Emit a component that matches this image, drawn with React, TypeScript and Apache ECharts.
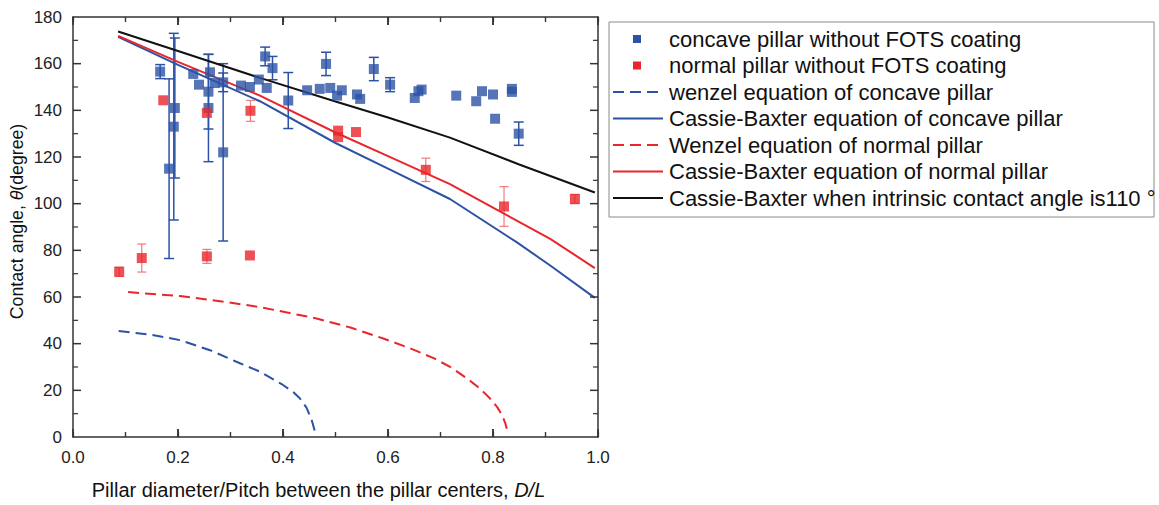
import React, { useEffect, useRef } from "react";
import * as echarts from "echarts";

// Measured contact angles, concave pillars (D/L, angle, ± error)
const concaveX = [0.166, 0.183, 0.192, 0.194, 0.229, 0.24, 0.261, 0.258, 0.258, 0.27, 0.286, 0.286, 0.32, 0.337, 0.354, 0.366, 0.369, 0.38, 0.41, 0.446, 0.47, 0.482, 0.49, 0.503, 0.512, 0.541, 0.547, 0.573, 0.604, 0.651, 0.658, 0.664, 0.73, 0.768, 0.779, 0.8, 0.804, 0.836, 0.836, 0.849];
const concaveY = [156.6, 115, 133, 141, 155.6, 151, 156.3, 148, 141, 151.7, 152, 122, 150.6, 150, 153.2, 163.1, 149.6, 158.1, 144.2, 148.6, 149.2, 159.9, 149.6, 146.3, 148.6, 146.8, 144.9, 157.7, 151, 145.3, 148.2, 148.9, 146.3, 143.9, 148.2, 146.8, 136.4, 149.2, 147.9, 130];
const concaveErr = [3, 38.5, 40, 30, 0, 0, 0, 16, 23, 0, 4, 38, 0, 0, 0, 4, 0, 5, 12, 0, 0, 5, 0, 0, 0, 0, 0, 5, 3, 0, 0, 0, 0, 0, 0, 0, 0, 0, 0, 5];

// Measured contact angles, normal pillars
const normalX = [0.088, 0.131, 0.172, 0.255, 0.255, 0.338, 0.337, 0.505, 0.505, 0.539, 0.672, 0.821, 0.956];
const normalY = [70.8, 76.7, 144.3, 138.9, 77.4, 139.8, 77.8, 131.3, 128.5, 130.7, 114.5, 98.8, 102];
const normalErr = [2, 6, 0, 0, 3, 4.5, 0, 0, 0, 0, 5, 8.5, 2];

// Model curves: [D/L, angle]
const wenzelConcave = [[0.087, 45.4], [0.15, 43.8], [0.204, 41.5], [0.261, 37.2], [0.318, 31.6], [0.356, 28], [0.4, 22.3], [0.42, 19.2], [0.432, 16.6], [0.445, 12.5], [0.455, 7], [0.46, 3], [0.462, 0.8]];
const cassieConcave = [[0.086, 171.5], [0.2, 159.5], [0.356, 143.9], [0.5, 126], [0.6, 115], [0.718, 102], [0.845, 83.5], [0.909, 73.5], [0.994, 59.6]];
const wenzelNormal = [[0.105, 62.1], [0.204, 60.4], [0.28, 58.2], [0.356, 55.7], [0.464, 50.8], [0.53, 46.8], [0.591, 42.2], [0.64, 38.2], [0.688, 33.7], [0.72, 29.8], [0.75, 25.2], [0.775, 20.8], [0.794, 16.6], [0.808, 12.8], [0.817, 9.5], [0.823, 6.2], [0.826, 3.8], [0.828, 1]];
const cassieNormal = [[0.086, 171.9], [0.2, 160.8], [0.356, 146.3], [0.5, 130.5], [0.6, 120.4], [0.718, 108.4], [0.8, 98.3], [0.909, 84.9], [0.994, 72.4]];
const cassie110 = [[0.086, 173.8], [0.2, 165.4], [0.356, 153.9], [0.5, 143.8], [0.6, 136.9], [0.718, 128.3], [0.85, 116.8], [0.994, 104.8]];

// Axis ranges and tick positions (major ticks every second entry)
const X_MIN = 0;
const X_MAX = 1;
const Y_MIN = 0;
const Y_MAX = 180;
const xTickValues = [0.1, 0.2, 0.3, 0.4, 0.5, 0.6, 0.7, 0.8, 0.9];
const yTickValues = [10, 20, 30, 40, 50, 60, 70, 80, 90, 100, 110, 120, 130, 140, 150, 160, 170];

const seriesNames = [
  "concave pillar without FOTS coating",
  "normal pillar without FOTS coating",
  "wenzel equation of concave pillar",
  "Cassie-Baxter equation of concave pillar",
  "Wenzel equation of normal pillar",
  "Cassie-Baxter equation of normal pillar",
  "Cassie-Baxter when intrinsic contact angle is110 °",
];

const BLUE = "#2c52a5";
const RED = "#e8262b";
const BLACK = "#111";
const FONT = "'Liberation Sans', Arial, sans-serif";
const AXIS_COLOR = "#333";
const DASH = [11, 6];
const MAJOR_LEN = 8;
const MINOR_LEN = 5;

// Legend key kinds, in the same order as seriesNames
const legendKinds: [string, string][] = [
  ["square", BLUE],
  ["square", RED],
  ["dash", BLUE],
  ["solid", BLUE],
  ["dash", RED],
  ["solid", RED],
  ["solid", BLACK],
];

function zip(xs: number[], ys: number[]) {
  return xs.map((x, i) => [x, ys[i]]);
}

function errRows(xs: number[], ys: number[], es: number[]) {
  return xs.map((x, i) => [x, ys[i], es[i]]).filter((r) => r[2] > 0);
}

function errorBarSeries(rows: number[][], color: string, width: number, half: number) {
  return {
    type: "custom",
    silent: true,
    data: rows,
    encode: { x: 0, y: 1 },
    z: 2,
    renderItem: (_params: any, api: any) => {
      const x = api.value(0);
      const y = api.value(1);
      const e = api.value(2);
      const top = api.coord([x, y + e]);
      const bot = api.coord([x, y - e]);
      const style = { stroke: color, lineWidth: width };
      return {
        type: "group",
        children: [
          { type: "line", shape: { x1: top[0], y1: top[1], x2: bot[0], y2: bot[1] }, style },
          { type: "line", shape: { x1: top[0] - half, y1: top[1], x2: top[0] + half, y2: top[1] }, style },
          { type: "line", shape: { x1: bot[0] - half, y1: bot[1], x2: bot[0] + half, y2: bot[1] }, style },
        ],
      };
    },
  };
}

// Inward ticks on the frame, drawn as thin bars in one item
function frameTickSeries() {
  return {
    type: "custom",
    silent: true,
    data: [[0.5, 90]],
    encode: { x: 0, y: 1 },
    clip: false,
    z: 6,
    renderItem: (_params: any, api: any) => {
      const children: any[] = [];
      const fill = AXIS_COLOR;
      xTickValues.forEach((v, i) => {
        const major = i % 2 === 1;
        const len = major ? MAJOR_LEN : MINOR_LEN;
        const w = major ? 1.5 : 1.2;
        const b = api.coord([v, Y_MIN]);
        const t = api.coord([v, Y_MAX]);
        children.push({ type: "rect", shape: { x: b[0] - w / 2, y: b[1] - len, width: w, height: len }, style: { fill } });
        children.push({ type: "rect", shape: { x: t[0] - w / 2, y: t[1], width: w, height: len }, style: { fill } });
      });
      yTickValues.forEach((v, i) => {
        const major = i % 2 === 1;
        const len = major ? MAJOR_LEN : MINOR_LEN;
        const w = major ? 1.5 : 1.2;
        const l = api.coord([X_MIN, v]);
        const r = api.coord([X_MAX, v]);
        children.push({ type: "rect", shape: { x: l[0], y: l[1] - w / 2, width: len, height: w }, style: { fill } });
        children.push({ type: "rect", shape: { x: r[0] - len, y: r[1] - w / 2, width: len, height: w }, style: { fill } });
      });
      return { type: "group", children };
    },
  };
}

function lineSeries(name: string, data: number[][], color: string, dashed: boolean) {
  return {
    name,
    type: "line",
    data,
    symbol: "none",
    z: 3,
    itemStyle: { color },
    lineStyle: { color, width: 2, type: dashed ? DASH : "solid" },
  };
}

const frameAxis = (extra: any) => ({
  axisLine: { show: true, onZero: false, lineStyle: { color: AXIS_COLOR, width: 1.5 } },
  axisTick: { show: false },
  splitLine: { show: false },
  ...extra,
});

// Tick-only x axis pulled into the plot, so its outward ticks end on the frame
function xTickAxis(position: string, interval: number, len: number, width: number) {
  return {
    type: "value",
    min: X_MIN,
    max: X_MAX,
    interval,
    position,
    offset: -len,
    axisLine: { show: false, onZero: false },
    axisLabel: { show: false },
    splitLine: { show: false },
    axisTick: { show: true, inside: false, length: len, lineStyle: { color: AXIS_COLOR, width } },
  };
}

function legendGraphic() {
  const left = 609;
  const top = 22;
  const width = 545;
  const height = 195;
  const rowTop = 39;
  const rowStep = 26.5;
  const children: any[] = [
    {
      type: "rect",
      shape: { x: left, y: top, width, height },
      style: { fill: "#fff", stroke: "#8a8a8a", lineWidth: 1 },
    },
  ];
  seriesNames.forEach((name, i) => {
    const cy = rowTop + i * rowStep;
    const [kind, color] = legendKinds[i];
    if (kind === "square") {
      children.push({ type: "rect", shape: { x: 633, y: cy - 4, width: 8, height: 8 }, style: { fill: color } });
    } else {
      children.push({
        type: "line",
        shape: { x1: 613, y1: cy, x2: 663, y2: cy },
        style: { stroke: color, lineWidth: 2, lineDash: kind === "dash" ? DASH : null },
      });
    }
    children.push({
      type: "text",
      x: 669,
      y: cy,
      style: { text: name, fontFamily: FONT, fontSize: 22, fill: "#111", verticalAlign: "middle", align: "left" },
    });
  });
  return children;
}

// Vertical axis title, with the italic theta
function yTitleGraphic() {
  return {
    type: "text",
    x: 17,
    y: 221.5,
    rotation: Math.PI / 2,
    style: {
      text: "{n|Contact angle, }{i|θ}{n|(degree)}",
      align: "center",
      verticalAlign: "middle",
      rich: {
        n: { fontFamily: FONT, fontSize: 17.7, fill: "#111" },
        i: { fontFamily: FONT, fontSize: 17.7, fill: "#111", fontStyle: "italic" },
      },
    },
  };
}

export default function App() {
  const ref = useRef<HTMLDivElement>(null);

  useEffect(() => {
    if (!ref.current) return;
    const chart = echarts.init(ref.current, undefined, { renderer: "svg" });
    chart.setOption({
      animation: false,
      backgroundColor: "#fff",
      textStyle: { fontFamily: FONT },
      grid: { left: 73, right: 561, top: 17, bottom: 66 },
      graphic: [{ type: "group", children: [...legendGraphic(), yTitleGraphic()] }],
      xAxis: [
        frameAxis({
          type: "value",
          min: X_MIN,
          max: X_MAX,
          interval: 0.2,
          position: "bottom",
          name: "{n|Pillar diameter/Pitch between the pillar centers, }{i|D/L}",
          nameLocation: "middle",
          nameGap: 43,
          nameTextStyle: {
            padding: [0, 34, 0, 0],
            rich: {
              n: { fontFamily: FONT, fontSize: 20, color: "#111" },
              i: { fontFamily: FONT, fontSize: 20, color: "#111", fontStyle: "italic" },
            },
          },
          axisLabel: {
            margin: 12,
            fontSize: 17,
            color: "#222",
            fontFamily: FONT,
            formatter: (v: number) => v.toFixed(1),
          },
        }),
        frameAxis({
          type: "value",
          min: X_MIN,
          max: X_MAX,
          interval: 0.2,
          position: "top",
          axisLabel: { show: false },
        }),
        xTickAxis("bottom", 0.2, MAJOR_LEN, 1.5),
        xTickAxis("bottom", 0.1, MINOR_LEN, 1.2),
        xTickAxis("top", 0.2, MAJOR_LEN, 1.5),
        xTickAxis("top", 0.1, MINOR_LEN, 1.2),
      ],
      yAxis: [
        frameAxis({
          type: "value",
          min: Y_MIN,
          max: Y_MAX,
          interval: 20,
          position: "left",
          axisLabel: { margin: 11, fontSize: 17, color: "#222", fontFamily: FONT },
        }),
        frameAxis({
          type: "value",
          min: Y_MIN,
          max: Y_MAX,
          interval: 20,
          position: "right",
          axisLabel: { show: false },
        }),
      ],
      series: [
        frameTickSeries(),
        lineSeries(seriesNames[2], wenzelConcave, BLUE, true),
        lineSeries(seriesNames[3], cassieConcave, BLUE, false),
        lineSeries(seriesNames[4], wenzelNormal, RED, true),
        lineSeries(seriesNames[5], cassieNormal, RED, false),
        lineSeries(seriesNames[6], cassie110, BLACK, false),
        errorBarSeries(errRows(concaveX, concaveY, concaveErr), BLUE, 1.5, 5),
        errorBarSeries(errRows(normalX, normalY, normalErr), "#f07a7a", 1.2, 4.5),
        {
          name: seriesNames[0],
          type: "scatter",
          data: zip(concaveX, concaveY),
          symbol: "rect",
          symbolSize: 10,
          itemStyle: { color: BLUE },
          z: 4,
        },
        {
          name: seriesNames[1],
          type: "scatter",
          data: zip(normalX, normalY),
          symbol: "rect",
          symbolSize: 10,
          itemStyle: { color: RED },
          z: 4,
        },
      ],
    });
    return () => chart.dispose();
  }, []);

  return (
    <div
      ref={ref}
      style={{ position: "absolute", left: 0, top: 0, width: 1159, height: 505 }}
    />
  );
}
